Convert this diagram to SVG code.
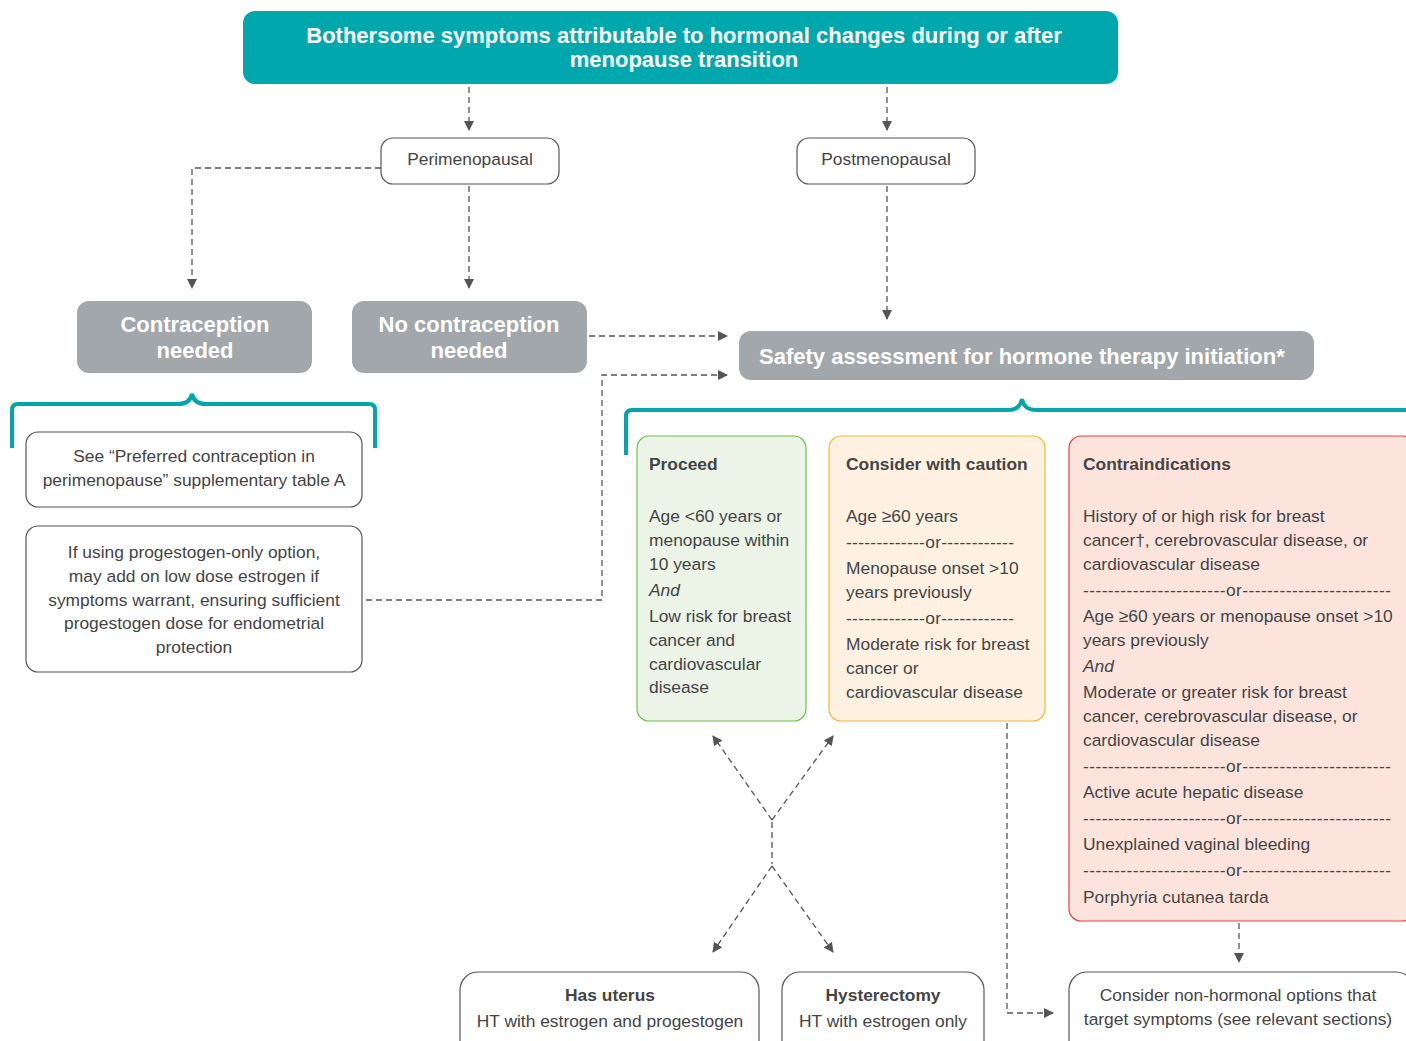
<svg xmlns="http://www.w3.org/2000/svg" width="1406" height="1041" viewBox="0 0 1406 1041">
<defs>
<style>
text{font-family:"Liberation Sans",Arial,sans-serif;fill:#444;}
.t{font-size:17.4px;}
.c{text-anchor:middle;}
.b{font-weight:bold;}
.w{fill:#fff;font-weight:bold;}
.box{fill:#fff;stroke:#555;stroke-width:1.2;}
.gray{fill:#A1A7AA;}
.con{fill:none;stroke:#555;stroke-width:1.3;stroke-dasharray:6 4;}
.brace{fill:none;stroke:#00A6A9;stroke-width:4;}
</style>
<marker id="ah" viewBox="0 0 10 10" refX="9" refY="5" markerWidth="10" markerHeight="10" markerUnits="userSpaceOnUse" orient="auto">
<path d="M0,0 L10,5 L0,10 z" fill="#555"/>
</marker>
</defs>
<rect width="1406" height="1041" fill="#fff"/>

<g id="connectors">
<path class="con" d="M469,87 V130" marker-end="url(#ah)"/>
<path class="con" d="M887,87 V130" marker-end="url(#ah)"/>
<path class="con" d="M381,168 H192 V288" marker-end="url(#ah)"/>
<path class="con" d="M469,186 V288" marker-end="url(#ah)"/>
<path class="con" d="M887,186 V319" marker-end="url(#ah)"/>
<path class="con" d="M589,336 H727" marker-end="url(#ah)"/>
<path class="con" d="M366,600 H602 V375 H727" marker-end="url(#ah)"/>
<path class="con" d="M772,820 L713,736" marker-end="url(#ah)"/>
<path class="con" d="M772,820 L833,736" marker-end="url(#ah)"/>
<path class="con" d="M772,822 V864"/>
<path class="con" d="M772,866 L713,952" marker-end="url(#ah)"/>
<path class="con" d="M772,866 L833,952" marker-end="url(#ah)"/>
<path class="con" d="M1007,723 V1013 H1053" marker-end="url(#ah)"/>
<path class="con" d="M1239,923 V962" marker-end="url(#ah)"/>
</g>

<g id="braces">
<path class="brace" d="M12,448 V410 Q12,404 18,404 H178 Q190,404 192,394 Q194,404 206,404 H369 Q375,404 375,410 V448"/>
<path class="brace" d="M626,455 V416 Q626,410 632,410 H1008 Q1020,410 1022,399 Q1024,410 1036,410 H1406"/>
</g>

<g id="top">
<rect x="243" y="11" width="875" height="73" rx="12" fill="#00A8AD"/>
<text class="w c" x="684" y="43" font-size="22">Bothersome symptoms attributable to hormonal changes during or after</text>
<text class="w c" x="684" y="67" font-size="22">menopause transition</text>
</g>

<g id="perimenopausal">
<rect class="box" x="381" y="138" width="178" height="46" rx="12"/>
<text class="t c" x="470" y="165">Perimenopausal</text>
</g>
<g id="postmenopausal">
<rect class="box" x="797" y="138" width="178" height="46" rx="12"/>
<text class="t c" x="886" y="165">Postmenopausal</text>
</g>

<g id="contraception">
<rect class="gray" x="77" y="301" width="235" height="72" rx="12"/>
<text class="w c" x="195" y="332" font-size="22">Contraception</text>
<text class="w c" x="195" y="358" font-size="22">needed</text>
</g>
<g id="nocontraception">
<rect class="gray" x="352" y="301" width="235" height="72" rx="12"/>
<text class="w c" x="469" y="332" font-size="22">No contraception</text>
<text class="w c" x="469" y="358" font-size="22">needed</text>
</g>

<g id="safety">
<rect class="gray" x="739" y="331" width="575" height="49" rx="12"/>
<text class="w" x="759" y="364" font-size="22">Safety assessment for hormone therapy initiation*</text>
</g>

<g id="seetable">
<rect class="box" x="26" y="432" width="336" height="75" rx="12"/>
<text class="t c" x="194" y="462">See “Preferred contraception in</text>
<text class="t c" x="194" y="486">perimenopause” supplementary table A</text>
</g>

<g id="progestogen">
<rect class="box" x="26" y="526" width="336" height="146" rx="12"/>
<text class="t c" x="194" y="558">If using progestogen-only option,</text>
<text class="t c" x="194" y="582">may add on low dose estrogen if</text>
<text class="t c" x="194" y="606">symptoms warrant, ensuring sufficient</text>
<text class="t c" x="194" y="629">progestogen dose for endometrial</text>
<text class="t c" x="194" y="653">protection</text>
</g>

<g id="proceed">
<rect x="637" y="436" width="169" height="285" rx="12" fill="#EBF4E7" stroke="#6CC04A" stroke-width="1.2"/>
<text class="t b" x="649" y="470">Proceed</text>
<text class="t" x="649" y="522">Age &lt;60 years or</text>
<text class="t" x="649" y="546">menopause within</text>
<text class="t" x="649" y="570">10 years</text>
<text class="t" x="649" y="596" font-style="italic">And</text>
<text class="t" x="649" y="622">Low risk for breast</text>
<text class="t" x="649" y="646">cancer and</text>
<text class="t" x="649" y="670">cardiovascular</text>
<text class="t" x="649" y="693">disease</text>
</g>

<g id="caution">
<rect x="829" y="436" width="216" height="285" rx="12" fill="#FEF1E2" stroke="#F5B731" stroke-width="1.2"/>
<text class="t b" x="846" y="470">Consider with caution</text>
<text class="t" x="846" y="522">Age ≥60 years</text>
<text class="t" x="846" y="548" textLength="168" lengthAdjust="spacing">-------------or------------</text>
<text class="t" x="846" y="574">Menopause onset &gt;10</text>
<text class="t" x="846" y="598">years previously</text>
<text class="t" x="846" y="624" textLength="168" lengthAdjust="spacing">-------------or------------</text>
<text class="t" x="846" y="650">Moderate risk for breast</text>
<text class="t" x="846" y="674">cancer or</text>
<text class="t" x="846" y="698">cardiovascular disease</text>
</g>

<g id="contraindications">
<rect x="1069" y="436" width="345" height="485" rx="12" fill="#FCE4DD" stroke="#E8403F" stroke-width="1.2"/>
<text class="t b" x="1083" y="470">Contraindications</text>
<text class="t" x="1083" y="522">History of or high risk for breast</text>
<text class="t" x="1083" y="546">cancer†, cerebrovascular disease, or</text>
<text class="t" x="1083" y="570">cardiovascular disease</text>
<text class="t" x="1083" y="596" textLength="308" lengthAdjust="spacing">-----------------------or------------------------</text>
<text class="t" x="1083" y="622">Age ≥60 years or menopause onset &gt;10</text>
<text class="t" x="1083" y="646">years previously</text>
<text class="t" x="1083" y="672" font-style="italic">And</text>
<text class="t" x="1083" y="698">Moderate or greater risk for breast</text>
<text class="t" x="1083" y="722">cancer, cerebrovascular disease, or</text>
<text class="t" x="1083" y="746">cardiovascular disease</text>
<text class="t" x="1083" y="772" textLength="308" lengthAdjust="spacing">-----------------------or------------------------</text>
<text class="t" x="1083" y="798">Active acute hepatic disease</text>
<text class="t" x="1083" y="824" textLength="308" lengthAdjust="spacing">-----------------------or------------------------</text>
<text class="t" x="1083" y="850">Unexplained vaginal bleeding</text>
<text class="t" x="1083" y="876" textLength="308" lengthAdjust="spacing">-----------------------or------------------------</text>
<text class="t" x="1083" y="903">Porphyria cutanea tarda</text>
</g>

<g id="hasuterus">
<rect class="box" x="460" y="972" width="299" height="90" rx="18"/>
<text class="t b c" x="610" y="1001">Has uterus</text>
<text class="t c" x="610" y="1027">HT with estrogen and progestogen</text>
</g>
<g id="hysterectomy">
<rect class="box" x="782" y="972" width="202" height="90" rx="18"/>
<text class="t b c" x="883" y="1001">Hysterectomy</text>
<text class="t c" x="883" y="1027">HT with estrogen only</text>
</g>
<g id="nonhormonal">
<rect class="box" x="1069" y="972" width="345" height="90" rx="18"/>
<text class="t c" x="1238" y="1001">Consider non-hormonal options that</text>
<text class="t c" x="1238" y="1025">target symptoms (see relevant sections)</text>
</g>
</svg>
